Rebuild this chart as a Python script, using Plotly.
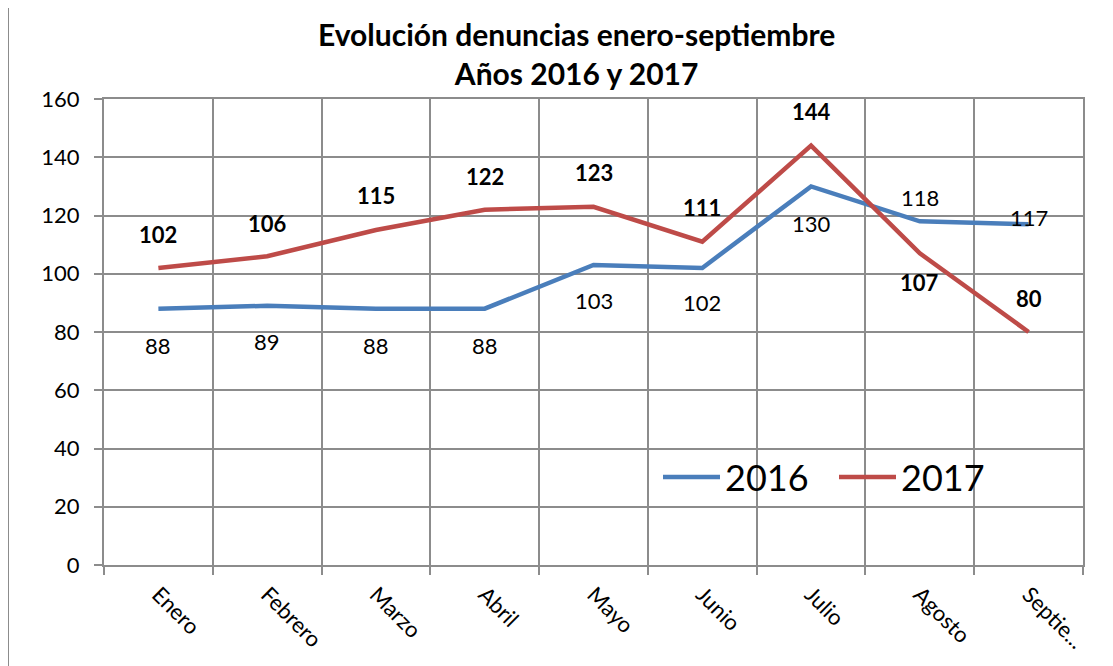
import plotly.graph_objects as go

months = ["Enero", "Febrero", "Marzo", "Abril", "Mayo", "Junio", "Julio", "Agosto", "Septiembre"]
tick_alias = {"Septiembre": "Septie..."}
vals_2016 = [88, 89, 88, 88, 103, 102, 130, 118, 117]
vals_2017 = [102, 106, 115, 122, 123, 111, 144, 107, 80]
label_shift_2016 = [-37, -36, -37, -37, -35, -35, -37, 24, 7]
label_shift_2017 = [33, 33, 35, 33, 34, 34, 34, -29, 34]

BLUE = "#4A7EBB"
RED = "#BE4B48"
GRID = "#8C8C8C"
FONT = "Lato"

# page offset (body margin) of the rendered figure
OFF = 8
W, H = 1113, 666
# plot area in page pixels
PX0, PX1, PY0, PY1 = 104, 1083, 99, 565
L, T = PX0 - OFF, PY0 - OFF
R, B = W - (PX1 - OFF), H - (PY1 - OFF)
pw, ph = PX1 - PX0, PY1 - PY0

def px_x(x):
    return (x - PX0) / pw

def px_y(y):
    return (PY1 - y) / ph

fig = go.Figure()
fig.add_trace(go.Scatter(x=months, y=vals_2016, mode="lines", name="2016",
                         line=dict(color=BLUE, width=4.5)))
fig.add_trace(go.Scatter(x=months, y=vals_2017, mode="lines", name="2017",
                         line=dict(color=RED, width=4.5)))

ann = []
for m, v, s in zip(months, vals_2016, label_shift_2016):
    ann.append(dict(x=m, y=v, text=str(v), showarrow=False, yshift=s,
                    font=dict(family=FONT, size=22, color="black")))
for m, v, s in zip(months, vals_2017, label_shift_2017):
    ann.append(dict(x=m, y=v, text="<b>%d</b>" % v, showarrow=False, yshift=s,
                    font=dict(family=FONT, size=22, color="black")))

ann.append(dict(xref="paper", yref="paper", x=px_x(576), y=px_y(54),
                text="<b>Evolución denuncias enero-septiembre<br>Años 2016 y 2017</b>",
                showarrow=False, xanchor="center", yanchor="middle",
                font=dict(family=FONT, size=30, color="black")))

fig.update_layout(
    width=W, height=H,
    margin=dict(l=L, r=R, t=T, b=B, autoexpand=False),
    paper_bgcolor="white", plot_bgcolor="white",
    font=dict(family=FONT, size=22, color="black"),
    showlegend=True,
    legend=dict(orientation="h", x=px_x(658), y=px_y(477), xanchor="left", yanchor="middle",
                bgcolor="rgba(0,0,0,0)", font=dict(family=FONT, size=36, color="black"),
                itemwidth=57, entrywidth=104, entrywidthmode="pixels"),
    annotations=ann,
    shapes=[dict(type="rect", xref="paper", yref="paper",
                 x0=px_x(8), x1=px_x(1140), y0=px_y(700), y1=px_y(7),
                 line=dict(color="#8C8C8C", width=2), layer="below")],
)
fig.update_xaxes(type="category", categoryorder="array", categoryarray=months,
                 labelalias=tick_alias, tickson="boundaries", ticks="outside", ticklen=8,
                 tickcolor=GRID, tickwidth=2, showgrid=True, gridcolor=GRID, gridwidth=2,
                 showline=True, linecolor=GRID, linewidth=2, mirror=True,
                 tickangle=45, tickfont=dict(family=FONT, size=22), range=[-0.5, 8.5],
                 ticklabelstandoff=6)
fig.update_yaxes(range=[0, 160], dtick=20, ticks="outside", ticklen=8, tickcolor=GRID, tickwidth=2,
                 showgrid=True, gridcolor=GRID, gridwidth=2, zeroline=False,
                 showline=True, linecolor=GRID, linewidth=2, mirror=True,
                 tickfont=dict(family=FONT, size=22), ticklabelstandoff=10)

fig.write_html("out.html")
